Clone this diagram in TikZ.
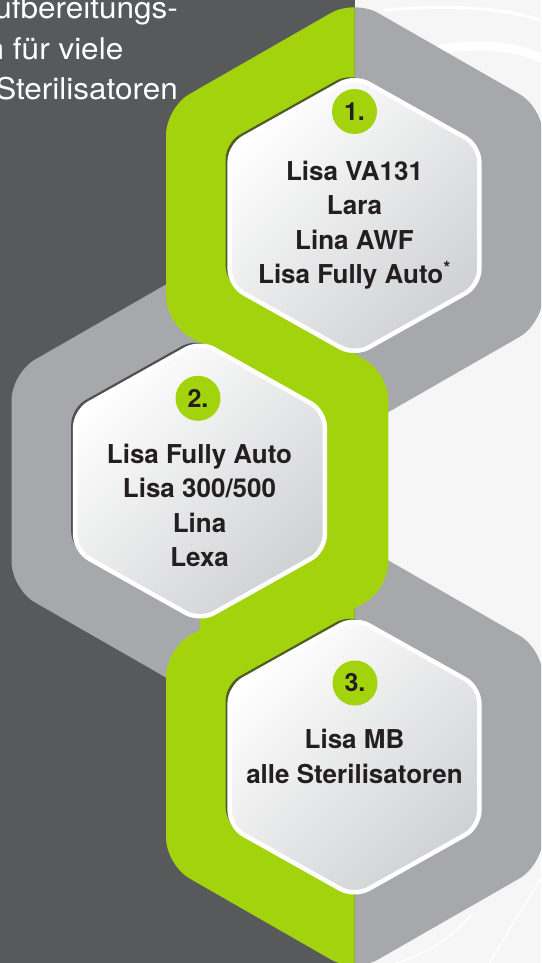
\documentclass[tikz,border=0pt]{standalone}
\usepackage{fontspec}
\setmainfont{TeX Gyre Heros}
\newfontfamily\introfont{TeX Gyre Heros}[FakeStretch=1.05]
\usepackage{xcolor}
\usepackage{tikz}
\usetikzlibrary{positioning}

\definecolor{panelgray}{HTML}{58595B}
\definecolor{hexgreen}{HTML}{A2D30C}
\definecolor{hexgray}{HTML}{A7A8AB}
\definecolor{bglight}{HTML}{F6F6F6}
\definecolor{hexshade}{HTML}{D0D1D3}
\definecolor{textdark}{HTML}{231F20}

% pointy-top hexagon: centre x, centre y, half width, half height
\newcommand{\hexpath}[4]{(#1,#2-#4) -- (#1+#3,#2-#4/2) -- (#1+#3,#2+#4/2) -- (#1,#2+#4) -- (#1-#3,#2+#4/2) -- (#1-#3,#2-#4/2) -- cycle}

\tikzstyle{outerhex} = [rounded corners=27pt]
\tikzstyle{innerhex} = [rounded corners=16pt, draw=white, line width=4.5pt,
    top color=white, middle color=black!4, bottom color=hexshade, shading angle=45]
\tikzstyle{hexshadow} = [rounded corners=16pt, fill=black!80, opacity=.75]
\tikzstyle{numdisc} = [circle, fill=hexgreen, minimum size=45pt, inner sep=0pt,
    font=\fontsize{25}{25}\selectfont\bfseries, text=textdark]
\tikzstyle{steptext} = [align=center, anchor=base, inner sep=0pt,
    font=\fontsize{26}{34.5}\selectfont\bfseries, text=textdark]
\tikzstyle{intro} = [anchor=base east, inner sep=0pt,
    font=\introfont\fontsize{30}{30}\selectfont, text=white]
\tikzstyle{swirl} = [draw=white, line cap=round]

\begin{document}
\begin{tikzpicture}[x=1pt, y=-1pt]
    \useasboundingbox (0,0) rectangle (541,963);
    \clip (0,0) rectangle (541,963);
    % Background
    \fill[panelgray] (0,0) rectangle (355,963);
    \fill[bglight] (355,0) rectangle (541,963);
    \path[swirl, line width=3pt] (385,10) .. controls (450,4) and (510,8) .. (545,22);
    \path[swirl, line width=9pt] (430,52) .. controls (470,42) and (515,44) .. (545,60);
    \path[swirl, line width=1.5pt] (545,872) .. controls (525,905) and (505,935) .. (488,966);
    \path[swirl, line width=1.5pt] (472,914) .. controls (452,938) and (425,955) .. (395,963);

    % Grey halves
    \begin{scope}
        \clip (354.5,-20) rectangle (600,460);
        \fill[hexgray, outerhex] \hexpath{354.5}{215.5}{188.4}{216};
    \end{scope}
    \begin{scope}
        \clip (-20,240) rectangle (200,720);
        \fill[hexgray, outerhex] \hexpath{200}{481}{188.4}{216};
    \end{scope}
    \begin{scope}
        \clip (354.5,520) rectangle (600,1000);
        \fill[hexgray, outerhex] \hexpath{354.5}{757}{188.4}{216};
    \end{scope}

    % Green halves
    \begin{scope}
        \clip (100,-20) rectangle (354.5,460);
        \fill[hexgreen, outerhex] \hexpath{354.5}{215.5}{188.4}{216};
    \end{scope}
    \begin{scope}
        \clip (200,240) rectangle (420,720);
        \fill[hexgreen, outerhex] \hexpath{200}{481}{188.4}{216};
    \end{scope}
    \begin{scope}
        \clip (100,520) rectangle (354.5,1000);
        \fill[hexgreen, outerhex] \hexpath{354.5}{757}{188.4}{216};
    \end{scope}

    % Inner hexagons
    \fill[hexshadow, shift={(-4,-3)}] \hexpath{354.5}{215.5}{124.8}{139.8};
    \path[innerhex] \hexpath{354.5}{215.5}{124.8}{139.8};
    \fill[hexshadow, shift={(-4,-3)}] \hexpath{200}{481}{124.8}{139.8};
    \path[innerhex] \hexpath{200}{481}{124.8}{139.8};
    \fill[hexshadow, shift={(-4,-3)}] \hexpath{354.5}{757}{124.8}{139.8};
    \path[innerhex] \hexpath{354.5}{757}{124.8}{139.8};

    % Place nodes
    \node[intro] (intro1) at (178,18.5) {ufbereitungs-};
    \node[intro] (intro2) at (123.5,59.5) {n für viele};
    \node[intro] (intro3) at (178,100) {Sterilisatoren};

    \node[numdisc] (num1) at (354.5,111.5) {1.};
    \node[steptext] (step1) at (354.5,283.5) {Lisa VA131\\ Lara\\ Lina AWF\\ Lisa Fully Auto\textsuperscript{*}};

    \node[numdisc] (num2) at (198,398.3) {2.};
    \node[steptext] (step2) at (199.5,566.7) {Lisa Fully Auto\\ Lisa 300/500\\ Lina\\ Lexa};

    \node[numdisc] (num3) at (355,683) {3.};
    \node[steptext] (step3) at (354.5,783.3) {Lisa MB\\ alle Sterilisatoren};
\end{tikzpicture}
\end{document}
